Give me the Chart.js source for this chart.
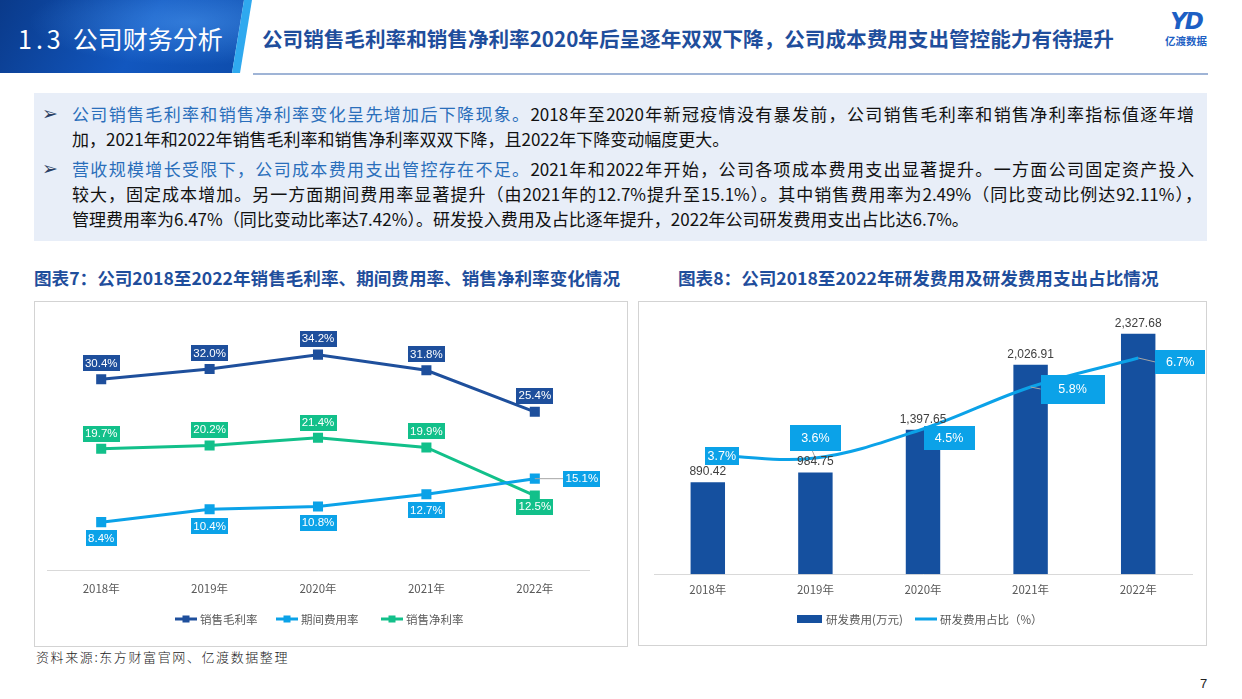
<!DOCTYPE html>
<html lang="zh-CN">
<head>
<meta charset="utf-8">
<title>1.3 公司财务分析</title>
<script src="https://cdn.jsdelivr.net/npm/chart.js@4.4.1/dist/chart.umd.min.js"></script>
<style>
  * { margin: 0; padding: 0; box-sizing: border-box; }
  body {
    width: 1242px; height: 699px; background: #fff; position: relative; overflow: hidden;
    font-family: "Noto Sans CJK SC", "Noto Sans", sans-serif; color: #1a1a1a;
  }
  .banner {
    position: absolute; left: 0; top: 0; width: 254px; height: 73px;
    background: radial-gradient(ellipse at 75% 30%, rgba(90,170,255,0.45), rgba(0,0,0,0) 60%),
                linear-gradient(120deg, #0a3a8a 0%, #1257bf 55%, #0d4cab 100%);
    clip-path: polygon(0 0, 244px 0, 232px 73px, 0 73px);
  }
  .stripe {
    position: absolute; left: 0; top: 0; width: 254px; height: 73px; background: #2fa9ef;
    clip-path: polygon(244px 0, 252px 0, 240px 73px, 232px 73px);
  }
  .banner-text {
    position: absolute; left: 18px; top: 21px; color: #fff; font-size: 25px; line-height: 34px;
    white-space: nowrap;
  }
  .banner-text .num { letter-spacing: 4px; margin-right: 8px; }
  .headline {
    position: absolute; left: 262px; top: 24px; color: #1f4e9c; font-size: 20.6px; font-weight: 700;
    line-height: 28px; white-space: nowrap;
  }
  .rule { position: absolute; left: 253px; top: 73px; width: 955px; height: 2px; background: #9fb4d6; }
  .logo { position: absolute; left: 1158px; top: 8px; width: 56px; height: 44px; text-align: center; }
  .logo .mark { font: italic 900 23px "DejaVu Sans", sans-serif; color: #1d5fc4; line-height: 26px; letter-spacing: -2px; }
  .logo .name { font-size: 10.5px; font-weight: 700; color: #1d5fc4; line-height: 13px; }
  .summary {
    position: absolute; left: 34px; top: 93px; width: 1173px; height: 148px; background: #e8eef8;
  }
  .bullet { position: absolute; left: 8px; font: bold 19px "DejaVu Sans", sans-serif; color: #2b3f63; line-height: 25px; }
  .line {
    position: absolute; left: 38px; font-size: 17px; line-height: 25px; color: #111;
  }
  .line.full { width: 1122px; text-align: justify; text-align-last: justify; }
  .hl { color: #2a6ebb; }
  .chart-title {
    position: absolute; top: 266px; color: #1f4e9c; font-size: 17.6px; font-weight: 700;
    line-height: 24px; white-space: nowrap;
  }
  .frame { position: absolute; border: 1px solid #d3d3d3; background: #fff; }
  canvas { position: absolute; }
  .source {
    position: absolute; left: 36px; top: 649px; font-size: 13px; letter-spacing: 1.6px;
    color: #222; line-height: 16px; font-weight: 300;
  }
  .page { position: absolute; left: 1200px; top: 676px; font: 13px "Liberation Sans", sans-serif; color: #222; }
</style>
</head>
<body>
<div class="banner"></div>
<div class="stripe"></div>
<div class="banner-text"><span class="num">1.3</span>公司财务分析</div>
<div class="headline">公司销售毛利率和销售净利率2020年后呈逐年双双下降，公司成本费用支出管控能力有待提升</div>
<div class="rule"></div>
<div class="logo"><div class="mark">YD</div><div class="name">亿渡数据</div></div>

<div class="summary">
  <div class="bullet" style="top:8px">➢</div>
  <div class="line full" style="top:8px"><span class="hl">公司销售毛利率和销售净利率变化呈先增加后下降现象。</span>2018年至2020年新冠疫情没有暴发前，公司销售毛利率和销售净利率指标值逐年增</div>
  <div class="line" style="top:33px">加，2021年和2022年销售毛利率和销售净利率双双下降，且2022年下降变动幅度更大。</div>
  <div class="bullet" style="top:63px">➢</div>
  <div class="line full" style="top:63px"><span class="hl">营收规模增长受限下，公司成本费用支出管控存在不足。</span>2021年和2022年开始，公司各项成本费用支出显著提升。一方面公司固定资产投入</div>
  <div class="line full" style="top:88px; width:1130px">较大，固定成本增加。另一方面期间费用率显著提升（由2021年的12.7%提升至15.1%）。其中销售费用率为2.49%（同比变动比例达92.11%），</div>
  <div class="line" style="top:113px">管理费用率为6.47%（同比变动比率达7.42%）。研发投入费用及占比逐年提升，2022年公司研发费用支出占比达6.7%。</div>
</div>

<div class="chart-title" style="left:34px">图表7：公司2018至2022年销售毛利率、期间费用率、销售净利率变化情况</div>
<div class="chart-title" style="left:678px">图表8：公司2018至2022年研发费用及研发费用支出占比情况</div>

<div class="frame" style="left:34px; top:301px; width:594px; height:346px"></div>
<div class="frame" style="left:638px; top:301px; width:569px; height:345px"></div>
<canvas id="rate-chart" width="592" height="344" style="left:35px; top:302px; width:592px; height:344px"></canvas>
<canvas id="rd-chart" width="567" height="343" style="left:639px; top:302px; width:567px; height:343px"></canvas>

<div class="source">资料来源:东方财富官网、亿渡数据整理</div>
<div class="page">7</div>

<script>
// Chart data
const years = ['2018年', '2019年', '2020年', '2021年', '2022年'];
const grossMargin = [30.4, 32.0, 34.2, 31.8, 25.4];   // 销售毛利率 %
const expenseRate = [8.4, 10.4, 10.8, 12.7, 15.1];    // 期间费用率 %
const netMargin = [19.7, 20.2, 21.4, 19.9, 12.5];     // 销售净利率 %
const rdExpense = [890.42, 984.75, 1397.65, 2026.91, 2327.68]; // 研发费用(万元)
const rdRatio = [3.7, 3.6, 4.5, 5.8, 6.7];            // 研发费用占比 %

const colors = {
    gross: '#1e4f9c',
    expense: '#0ba2e8',
    net: '#12c08a',
    bar: '#15509f',
    tick: '#595959',
    axis: '#d9d9d9',
    leader: '#a6a6a6'
};

const labelFont = '11.5px "Liberation Sans", Arial, sans-serif';

// Draws value labels (optionally in filled boxes) next to each element
const boxLabelPlugin = {
    id: 'boxLabels',
    afterDatasetsDraw(chart) {
        const ctx = chart.ctx;
        chart.data.datasets.forEach((ds, di) => {
            const cfg = ds.boxLabel;
            if (!cfg) return;
            const meta = chart.getDatasetMeta(di);
            meta.data.forEach((el, i) => {
                const p = cfg.place[i];
                const text = cfg.format(ds.data[i]);
                const x = el.x + p.dx;
                const y = el.y + p.dy;
                ctx.save();
                ctx.font = cfg.font || labelFont;
                const w = p.w || ctx.measureText(text).width + 8;
                const h = p.h || 16;
                if (p.leader) {
                    ctx.strokeStyle = colors.leader;
                    ctx.lineWidth = 1;
                    ctx.beginPath();
                    ctx.moveTo(el.x, el.y);
                    ctx.lineTo(x + p.leader[0], y + p.leader[1]);
                    ctx.stroke();
                }
                if (cfg.bg) {
                    ctx.fillStyle = cfg.bg;
                    ctx.fillRect(Math.round(x - w / 2), Math.round(y - h / 2), Math.round(w), h);
                }
                ctx.fillStyle = cfg.color;
                ctx.textAlign = 'center';
                ctx.textBaseline = 'middle';
                ctx.fillText(text, x, y + 0.5);
                ctx.restore();
            });
        });
    }
};

// Legend drawn at fixed spots under the axis
const fixedLegendPlugin = {
    id: 'fixedLegend',
    afterDraw(chart, args, opts) {
        const ctx = chart.ctx;
        ctx.save();
        ctx.font = '11.5px "Noto Sans CJK SC", sans-serif';
        ctx.textBaseline = 'middle';
        opts.items.forEach(item => {
            const y = opts.y;
            if (item.type === 'bar') {
                ctx.fillStyle = item.color;
                ctx.fillRect(item.x, y - 4, 25, 8);
                ctx.fillStyle = colors.tick;
                ctx.fillText(item.text, item.x + 29, y + 0.5);
            } else {
                ctx.strokeStyle = item.color;
                ctx.lineWidth = 3;
                ctx.beginPath();
                ctx.moveTo(item.x, y);
                ctx.lineTo(item.x + 22, y);
                ctx.stroke();
                if (item.marker) {
                    ctx.fillStyle = item.color;
                    ctx.fillRect(item.x + 7.5, y - 3.5, 7, 7);
                }
                ctx.fillStyle = colors.tick;
                ctx.fillText(item.text, item.x + 25, y + 0.5);
            }
        });
        ctx.restore();
    }
};

const pct = v => v.toFixed(1) + '%';
const thousands = v => v.toLocaleString('en-US', { minimumFractionDigits: 2, maximumFractionDigits: 2 });

function lineSet(label, data, color, place) {
    return {
        label: label,
        data: data,
        borderColor: color,
        backgroundColor: color,
        borderWidth: 3,
        pointStyle: 'rect',
        pointRadius: 5,
        tension: 0,
        boxLabel: { bg: color, color: '#fff', format: pct, place: place }
    };
}

function createRateChart() {
    const ctx = document.getElementById('rate-chart');
    const above = [0, 1, 2, 3, 4].map(() => ({ dx: 0, dy: -16, w: 37 }));
    new Chart(ctx, {
        type: 'line',
        data: {
            labels: years,
            datasets: [
                lineSet('销售毛利率', grossMargin, colors.gross, above),
                lineSet('期间费用率', expenseRate, colors.expense, [
                    { dx: 0, dy: 16, w: 31 },
                    { dx: 0, dy: 17, w: 37 },
                    { dx: 0, dy: 16, w: 37 },
                    { dx: 0, dy: 16, w: 37 },
                    { dx: 47, dy: 0, w: 37, leader: [-18, 0] }
                ]),
                lineSet('销售净利率', netMargin, colors.net, [
                    { dx: 0, dy: -15, w: 37 },
                    { dx: 0, dy: -16, w: 37 },
                    { dx: 0, dy: -15, w: 37 },
                    { dx: 0, dy: -16, w: 37 },
                    { dx: 0, dy: 11, w: 37 }
                ])
            ]
        },
        options: {
            responsive: false,
            animation: false,
            layout: { padding: { left: 12, right: 38, top: 15, bottom: 38 } },
            plugins: {
                legend: { display: false },
                tooltip: { enabled: false },
                fixedLegend: {
                    y: 317,
                    items: [
                        { type: 'line', marker: true, color: colors.gross, text: '销售毛利率', x: 140 },
                        { type: 'line', marker: true, color: colors.expense, text: '期间费用率', x: 241 },
                        { type: 'line', marker: true, color: colors.net, text: '销售净利率', x: 346 }
                    ]
                }
            },
            scales: {
                x: {
                    offset: true,
                    grid: { display: false, drawTicks: false },
                    border: { display: true, color: colors.axis, width: 1 },
                    ticks: { color: colors.tick, font: { size: 11.5, family: '"Noto Sans CJK SC", sans-serif' }, padding: 12 }
                },
                y: { display: false, min: 1, max: 40 }
            }
        },
        plugins: [boxLabelPlugin, fixedLegendPlugin]
    });
}

function createRdChart() {
    const ctx = document.getElementById('rd-chart');
    new Chart(ctx, {
        data: {
            labels: years,
            datasets: [
                {
                    type: 'line',
                    label: '研发费用占比（%）',
                    data: rdRatio,
                    yAxisID: 'y1',
                    borderColor: colors.expense,
                    backgroundColor: colors.expense,
                    borderWidth: 3,
                    pointRadius: 0,
                    tension: 0.35,
                    order: 0,
                    boxLabel: {
                        bg: colors.expense, color: '#fff', format: pct,
                        font: '12.5px "Liberation Sans", Arial, sans-serif',
                        place: [
                            { dx: 14, dy: 1, w: 34, h: 18 },
                            { dx: 0, dy: -20, w: 51, h: 26, leader: [-3, 13] },
                            { dx: 26, dy: 9, w: 51, h: 24 },
                            { dx: 42, dy: 2, w: 64, h: 29, leader: [-32, 0] },
                            { dx: 42, dy: 4, w: 50, h: 24, leader: [-25, 0] }
                        ]
                    }
                },
                {
                    type: 'bar',
                    label: '研发费用(万元)',
                    data: rdExpense,
                    yAxisID: 'y',
                    backgroundColor: colors.bar,
                    categoryPercentage: 1,
                    barPercentage: 0.32,
                    order: 1,
                    boxLabel: {
                        bg: null, color: '#404040', format: thousands,
                        font: '12px "Liberation Sans", Arial, sans-serif',
                        place: [0, 1, 2, 3, 4].map(() => ({ dx: 0, dy: -11 }))
                    }
                }
            ]
        },
        options: {
            responsive: false,
            animation: false,
            layout: { padding: { left: 15, right: 14, top: 14, bottom: 39 } },
            plugins: {
                legend: { display: false },
                tooltip: { enabled: false },
                fixedLegend: {
                    y: 317,
                    items: [
                        { type: 'bar', color: colors.bar, text: '研发费用(万元)', x: 158 },
                        { type: 'line', color: colors.expense, text: '研发费用占比（%）', x: 276 }
                    ]
                }
            },
            scales: {
                x: {
                    offset: true,
                    grid: { display: false, drawTicks: false },
                    border: { display: true, color: colors.axis, width: 1 },
                    ticks: { color: colors.tick, font: { size: 11.5, family: '"Noto Sans CJK SC", sans-serif' }, padding: 9 }
                },
                y: { display: false, min: 0, max: 2500 },
                y1: { display: false, min: 0, max: 8, position: 'right' }
            }
        },
        plugins: [boxLabelPlugin, fixedLegendPlugin]
    });
}

document.addEventListener('DOMContentLoaded', function() {
    createRateChart();
    createRdChart();
});
</script>
</body>
</html>
